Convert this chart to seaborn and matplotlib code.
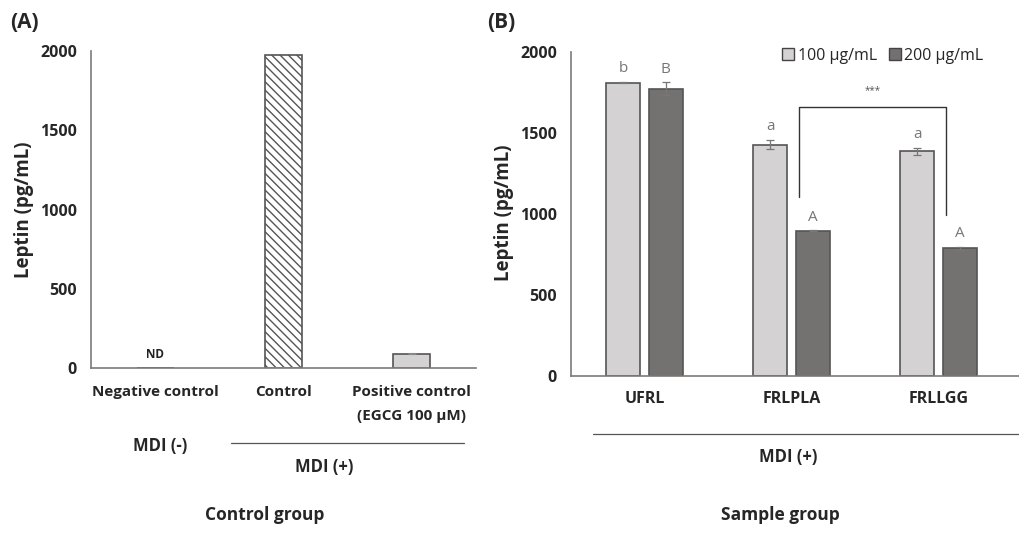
import numpy as np
import pandas as pd
import matplotlib
matplotlib.use("Agg")
import matplotlib.pyplot as plt
import seaborn as sns
from matplotlib.lines import Line2D

# ---------------- data ----------------
ctrl_groups = ["Negative control", "Control", "Positive control\n(EGCG 100 μM)"]
ctrl_values = [2, 1975, 90]
ctrl_errors = [0, 0, 4]
ctrl_base = [0, 8, 8]          # small orange segment at the base

sample_groups = ["UFRL", "FRLPLA", "FRLLGG"]
conc_labels = ["100 μg/mL", "200 μg/mL"]
values_100 = [1811, 1428, 1387]
values_200 = [1774, 897, 788]
errors_100 = [3, 29, 20]
errors_200 = [38, 3, 8]
letters_100 = ["b", "a", "a"]
letters_200 = ["B", "A", "A"]
bracket_top = 1660
bracket_left_bottom = 1103
bracket_right_bottom = 996
yticks = [0, 500, 1000, 1500, 2000]

# ---------------- style ----------------
sns.set_style("white")
plt.rcParams["font.family"] = ["Open Sans", "Noto Sans CJK KR", "DejaVu Sans"]
plt.rcParams["hatch.color"] = "#6a6a6a"
plt.rcParams["hatch.linewidth"] = 1.0

W, H = 1020, 543
fig = plt.figure(figsize=(W / 100, H / 100), dpi=100)

def fx(px):
    return px / W

def fy(py):
    return 1 - py / H

axA = fig.add_axes([fx(91), fy(368), fx(476) - fx(91), fy(51) - fy(368)])
axB = fig.add_axes([fx(571), fy(376), fx(1020) - fx(571), fy(52) - fy(376)])

light = "#D4D2D2"
dark = "#757070"
edge = "#555555"
spine_c = "#7a7a7a"
tick_fs = 11.5
cat_fs = 11

# ---------------- panel A ----------------
sns.barplot(x=ctrl_groups, y=ctrl_values, hue=ctrl_groups, legend=False,
            palette=["#ffffff", "#ffffff", light], width=0.29,
            edgecolor=edge, linewidth=1.2, ax=axA, errorbar=None)
pA = sorted(axA.patches, key=lambda p: p.get_x())
pA[1].set_hatch("\\\\\\\\")
for p, e in zip(pA, ctrl_errors):
    if e > 0:
        axA.errorbar(p.get_x() + p.get_width() / 2, p.get_height(), yerr=e,
                     color="#888888", capsize=3, lw=0.8, capthick=0.8)
for p, b in zip(pA, ctrl_base):
    if b > 0:
        axA.bar(p.get_x() + p.get_width() / 2, b, width=p.get_width() * 0.92,
                color="#ED7D31", linewidth=0)
axA.text(pA[0].get_x() + pA[0].get_width() / 2, 45, "ND", ha="center",
         va="bottom", fontsize=8.5, fontweight="bold", color="#222222")

axA.set_ylim(0, 2000)
axA.set_xlim(-0.5, 2.5)
axA.set_yticks(yticks)
axA.set_yticklabels([str(v) for v in yticks], fontsize=tick_fs, fontweight="bold")
axA.tick_params(axis="y", direction="out", length=4, width=1, color=spine_c, pad=6)
axA.set_xticks(range(3))
axA.set_xticklabels(ctrl_groups, fontsize=cat_fs, fontweight="bold")
for t in axA.get_xticklabels():
    t.set_linespacing(1.9)
axA.tick_params(axis="x", which="major", length=0, pad=12)
axA.set_xticks([0.5, 1.5], minor=True)
axA.tick_params(axis="x", which="minor", direction="in", length=5, width=1, color=spine_c)
axA.set_xlabel("")
axA.set_ylabel("")
for s in ["top", "right"]:
    axA.spines[s].set_visible(False)
for s in ["left", "bottom"]:
    axA.spines[s].set_color(spine_c)
    axA.spines[s].set_linewidth(1.2)

# ---------------- panel B ----------------
df = pd.DataFrame({
    "group": sample_groups * 2,
    "conc": [conc_labels[0]] * 3 + [conc_labels[1]] * 3,
    "value": values_100 + values_200,
})
sns.barplot(data=df, x="group", y="value", hue="conc", palette=[light, dark],
            width=0.58, gap=0.2, edgecolor=edge, linewidth=1.2, ax=axB,
            errorbar=None, legend=False)
cont100, cont200 = axB.containers[0], axB.containers[1]
for cont, errs, letters in [(cont100, errors_100, letters_100),
                            (cont200, errors_200, letters_200)]:
    for p, e, l in zip(cont, errs, letters):
        cx = p.get_x() + p.get_width() / 2
        h = p.get_height()
        axB.errorbar(cx, h, yerr=e, color="#777777", capsize=3, lw=0.9, capthick=0.9)
        axB.text(cx, h + e + 35, l, ha="center", va="bottom", fontsize=11,
                 color="#777777")

pl = cont200[1]
pr = cont200[2]
xl = pl.get_x() + pl.get_width() * 0.1
xr = pr.get_x() + pr.get_width() * 0.1
axB.plot([xl, xl, xr, xr],
         [bracket_left_bottom, bracket_top, bracket_top, bracket_right_bottom],
         color="#333333", lw=1.0)
axB.text((xl + xr) / 2, bracket_top + 70, "***", ha="center", va="bottom",
         fontsize=7, color="#555555")

axB.set_ylim(0, 2000)
axB.set_xlim(-0.5, 2.5 + 8 / 147)
axB.set_yticks(yticks)
axB.set_yticklabels([str(v) for v in yticks], fontsize=tick_fs, fontweight="bold")
axB.tick_params(axis="y", direction="out", length=4, width=1, color=spine_c, pad=6)
axB.set_xticks(range(3))
axB.set_xticklabels(sample_groups, fontsize=cat_fs + 0.5, fontweight="bold")
axB.tick_params(axis="x", which="major", length=0, pad=11)
axB.set_xticks([0.5, 1.5], minor=True)
axB.tick_params(axis="x", which="minor", direction="in", length=5, width=1, color=spine_c)
axB.set_xlabel("")
axB.set_ylabel("")
for s in ["top", "right"]:
    axB.spines[s].set_visible(False)
for s in ["left", "bottom"]:
    axB.spines[s].set_color(spine_c)
    axB.spines[s].set_linewidth(1.2)

handles = [Line2D([], [], marker="s", linestyle="", markersize=8,
                  markerfacecolor=c, markeredgecolor="#444444", markeredgewidth=1)
           for c in [light, dark]]
fig.legend(handles, conc_labels, loc="center left",
           bbox_to_anchor=(fx(782), fy(56)), ncol=2, frameon=False,
           fontsize=11.5, handlelength=0.8, handletextpad=0.2,
           columnspacing=0.7, borderpad=0, borderaxespad=0)

# ---------------- figure annotations ----------------
fig.text(fx(10), fy(23), "(A)", fontsize=15, fontweight="bold", ha="left", va="center")
fig.text(fx(487), fy(23), "(B)", fontsize=15, fontweight="bold", ha="left", va="center")
fig.text(fx(24), fy(210), "Leptin (pg/mL)", rotation=90, fontsize=13.5,
         fontweight="bold", ha="center", va="center")
fig.text(fx(504), fy(213), "Leptin (pg/mL)", rotation=90, fontsize=13.5,
         fontweight="bold", ha="center", va="center")

fig.text(fx(160), fy(446), "MDI (-)", fontsize=12, fontweight="bold", ha="center", va="center")
fig.add_artist(Line2D([fx(231), fx(464)], [fy(443), fy(443)], color="#555555", lw=0.9))
fig.text(fx(324), fy(467), "MDI (+)", fontsize=12, fontweight="bold", ha="center", va="center")
fig.text(fx(265), fy(515), "Control group", fontsize=12.5, fontweight="bold", ha="center", va="center")

fig.add_artist(Line2D([fx(593), fx(1020)], [fy(434), fy(434)], color="#555555", lw=0.9))
fig.text(fx(788), fy(457), "MDI (+)", fontsize=12, fontweight="bold", ha="center", va="center")
fig.text(fx(780), fy(515), "Sample group", fontsize=12.5, fontweight="bold", ha="center", va="center")

fig.savefig("out.png", dpi=100)
